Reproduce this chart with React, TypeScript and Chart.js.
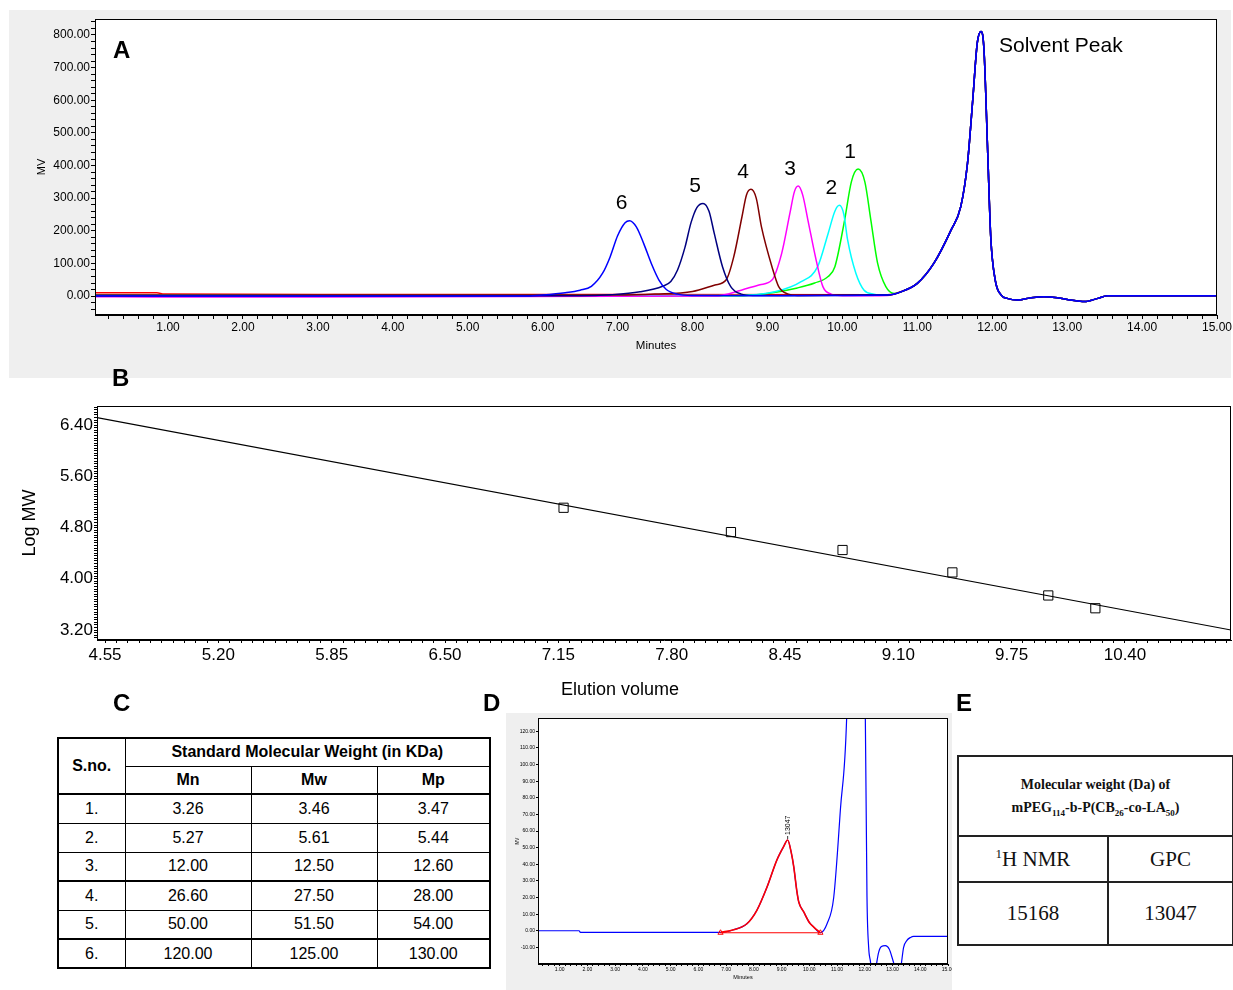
import React, { useEffect, useRef } from 'react';
import { Chart, registerables } from 'chart.js';

Chart.register(...registerables);

const SANS = '"Liberation Sans", Arial, Helvetica, sans-serif';
const SERIF = '"Liberation Serif", "Times New Roman", serif';
Chart.defaults.font.family = SANS;
Chart.defaults.color = '#000';

// ---------------- Panel A: GPC chromatograms of standards ----------------
const stdNames = ['6', '5', '4', '3', '2', '1'];
const stdColors = ['#0000ff', '#000080', '#800000', '#ff00ff', '#00ffff', '#00ff00'];
const stdPeakTime = [7.16, 8.14, 8.78, 9.41, 9.96, 10.21];
const stdPeakMv = [231, 284, 327, 337, 278, 389];

const std6T = [0.03, 3.0, 5.8, 6.0, 6.3, 6.5, 6.65, 6.8, 6.9, 7.0, 7.1, 7.16, 7.25, 7.35, 7.45, 7.55, 7.65, 7.8, 8.0, 9.0, 10.6];
const std6V = [1, 0, 0, 3, 10, 18, 30, 70, 120, 185, 225, 231, 212, 160, 100, 50, 20, 6, 2, 1, 3];
const std5T = [0.03, 3.0, 6.5, 6.9, 7.3, 7.6, 7.71, 7.8, 7.9, 7.98, 8.06, 8.14, 8.22, 8.29, 8.4, 8.51, 8.65, 8.8, 10.6];
const std5V = [0, 0, 1, 4, 13, 30, 45, 80, 150, 225, 272, 284, 260, 192, 90, 29, 6, 2, 3];
const std4T = [0.03, 3.0, 7.0, 7.5, 8.0, 8.3, 8.45, 8.55, 8.66, 8.72, 8.78, 8.85, 8.92, 9.06, 9.15, 9.28, 9.4, 10.6];
const std4V = [3, 3, 3, 6, 14, 34, 50, 120, 243, 310, 327, 300, 212, 90, 29, 6, 2, 3];
const std3T = [0.03, 0.8, 3.0, 8.3, 8.65, 8.9, 9.06, 9.19, 9.3, 9.36, 9.41, 9.47, 9.54, 9.65, 9.74, 9.85, 10.0, 10.6];
const std3V = [-2, -3, -3, 0, 18, 35, 49, 131, 254, 320, 337, 310, 233, 110, 29, 6, 1, 2];
const std2T = [0.03, 3.0, 8.6, 9.1, 9.45, 9.67, 9.81, 9.9, 9.96, 10.02, 10.07, 10.18, 10.29, 10.42, 10.6];
const std2V = [4, 2, 2, 13, 44, 90, 192, 260, 278, 250, 172, 70, 18, 6, 3];
const std1T = [0.03, 3.0, 8.6, 9.0, 9.4, 9.63, 9.81, 9.9, 10.03, 10.12, 10.21, 10.3, 10.38, 10.47, 10.58, 10.69];
const std1V = [3, 1, 1, 8, 25, 40, 60, 90, 233, 350, 389, 350, 233, 101, 29, 8];
const blankT = [0.03, 0.85, 0.95, 3.0, 10.6];
const blankV = [10, 10, 6, 5, 4];
const blankColor = '#ff0000';

// solvent peak region shared by every run
const solventT = [10.78, 11.0, 11.22, 11.45, 11.58, 11.67, 11.74, 11.8, 11.85, 11.89, 11.94, 11.98, 12.04, 12.12, 12.2, 12.34, 12.52, 12.69, 12.87, 13.05, 13.23, 13.41, 13.54, 15.0];
const solventV = [13, 39, 100, 202, 274, 407, 601, 775, 811, 755, 438, 182, 49, 3, -7, -12, -5, -2, -5, -12, -17, -7, 1, 1];
const solventPeakTime = 11.85;
const solventPeakMv = 811;

// ---------------- Panel B: calibration ----------------
const calibElution = [7.18, 8.14, 8.78, 9.41, 9.96, 10.23];
const calibLogMw = [5.11, 4.73, 4.45, 4.1, 3.74, 3.54];
const fitElution = [4.504, 11.008];
const fitLogMw = [6.52, 3.2];

// ---------------- Panel C: table ----------------
const tableSno = ['1.', '2.', '3.', '4.', '5.', '6.'];
const tableMn = ['3.26', '5.27', '12.00', '26.60', '50.00', '120.00'];
const tableMw = ['3.46', '5.61', '12.50', '27.50', '51.50', '125.00'];
const tableMp = ['3.47', '5.44', '12.60', '28.00', '54.00', '130.00'];

// ---------------- Panel D: sample chromatogram ----------------
const sampleBaseT = [0.22, 1.7, 1.75, 3.2, 6.3];
const sampleBaseV = [0, 0, -1, -1, -1];
const samplePeakT = [6.8, 7.27, 7.75, 8.11, 8.47, 8.83, 9.07, 9.22, 9.35, 9.44, 9.55, 9.62, 9.8, 10.0, 10.16, 10.4];
const samplePeakV = [-1, 0.6, 4.2, 12.3, 26, 42.5, 50.5, 54.6, 47, 38.4, 24, 17.3, 11.3, 5, 2.2, -1.2];
const sampleTailT = [10.64, 10.88, 11.12, 11.36, 11.6, 11.85, 11.97, 12.02, 12.08, 12.14, 12.2, 12.3, 12.4, 12.5, 12.6, 12.74, 12.88, 13.0, 13.1, 13.2, 13.3, 13.4, 13.52, 13.65, 13.76, 15.0];
const sampleTailV = [4.2, 20, 72.7, 135, 350, 800, 350, 128, 20, -10, -18, -30, -22, -13, -9.5, -9, -11, -17, -23, -30, -22, -10, -5.8, -4, -3.4, -3.4];
const peakBaseT = [6.8, 10.4];
const peakBaseV = [-1.2, -1.2];
const samplePeakLabel = '13047';
const samplePeakTime = 9.22;
const samplePeakMv = 54.6;

// ---------------- Panel E ----------------
const nmrMw = '15168';
const gpcMw = '13047';

function pts(t: number[], v: number[]) {
  return t.map((x, i) => ({ x, y: v[i] }));
}

function noPad(s: any) {
  s.paddingLeft = 0;
  s.paddingRight = 0;
  s.paddingTop = 0;
  s.paddingBottom = 0;
}

function frame(id: string) {
  return {
    id,
    beforeDraw(chart: any) {
      const { ctx, chartArea: a } = chart;
      ctx.save();
      ctx.fillStyle = '#ffffff';
      ctx.fillRect(a.left, a.top, a.right - a.left, a.bottom - a.top);
      ctx.restore();
    },
    afterDatasetsDraw(chart: any) {
      const { ctx, chartArea: a } = chart;
      ctx.save();
      ctx.strokeStyle = '#000';
      ctx.lineWidth = 1;
      ctx.strokeRect(Math.round(a.left) + 0.5, Math.round(a.top) + 0.5, Math.round(a.right - a.left) - 1, Math.round(a.bottom - a.top) - 1);
      ctx.restore();
    },
  };
}

function makeA(): any {
  const runsT = [std6T, std5T, std4T, std3T, std2T, std1T];
  const runsV = [std6V, std5V, std4V, std3V, std2V, std1V];
  const datasets: any[] = runsT.map((t, i) => ({
    data: pts([...t, ...solventT], [...runsV[i], ...solventV]),
    borderColor: stdColors[i],
    borderWidth: 1.5,
    pointRadius: 0,
    fill: false,
    cubicInterpolationMode: 'monotone',
  }));
  datasets.push({
    data: pts([...blankT, ...solventT], [...blankV, ...solventV]),
    borderColor: blankColor,
    borderWidth: 1.5,
    pointRadius: 0,
    fill: false,
    cubicInterpolationMode: 'monotone',
  });
  const labels = {
    id: 'labelsA',
    afterDatasetsDraw(chart: any) {
      const { ctx, scales } = chart;
      const x = scales.x;
      const y = scales.y;
      ctx.save();
      ctx.fillStyle = '#000';
      ctx.font = `21px ${SANS}`;
      ctx.textAlign = 'center';
      ctx.textBaseline = 'middle';
      stdPeakTime.forEach((t, i) => {
        ctx.fillText(stdNames[i], x.getPixelForValue(t) - 8, y.getPixelForValue(stdPeakMv[i]) - 17);
      });
      ctx.textAlign = 'left';
      ctx.fillText('Solvent Peak', x.getPixelForValue(solventPeakTime) + 18, y.getPixelForValue(solventPeakMv) + 15);
      ctx.restore();
    },
  };
  return {
    type: 'line',
    data: { datasets },
    options: {
      responsive: false,
      animation: false,
      events: [],
      layout: { autoPadding: false, padding: { left: 0, top: 9, right: 16, bottom: 0 } },
      plugins: { legend: { display: false }, tooltip: { enabled: false } },
      scales: {
        x: {
          type: 'linear',
          min: 0.025,
          max: 15,
          afterBuildTicks: (s: any) => {
            const a = [];
            for (let k = 1; k <= 75; k++) a.push({ value: k / 5 });
            s.ticks = a;
          },
          ticks: {
            autoSkip: false,
            maxRotation: 0,
            padding: 1,
            color: '#000',
            font: { size: 12 },
            callback: (v: number) => (Math.abs(v - Math.round(v)) < 1e-6 ? v.toFixed(2) : ''),
          },
          grid: { drawOnChartArea: false, drawTicks: true, tickLength: 4, color: '#000' },
          border: { display: true, color: '#000', width: 1 },
          title: { display: true, text: 'Minutes', color: '#000', font: { size: 11.5 }, padding: { top: 0, bottom: 25 } },
          afterFit: (s: any) => {
            s.height = 63;
            noPad(s);
          },
        },
        y: {
          min: -58,
          max: 849,
          afterBuildTicks: (s: any) => {
            const a = [];
            for (let k = -2; k <= 42; k++) a.push({ value: k * 20 });
            s.ticks = a;
          },
          ticks: {
            autoSkip: false,
            padding: 1,
            color: '#000',
            font: { size: 12 },
            callback: (v: number) => (v >= 0 && v % 100 === 0 ? v.toFixed(2) : ''),
          },
          grid: { drawOnChartArea: false, drawTicks: true, tickLength: 4, color: '#000' },
          border: { display: true, color: '#000', width: 1 },
          title: { display: true, text: 'MV', color: '#000', font: { size: 11 }, padding: { top: 26, bottom: 0 } },
          afterFit: (s: any) => {
            s.width = 86;
            noPad(s);
          },
        },
      },
    },
    plugins: [frame('frameA'), labels],
  };
}

function makeB(): any {
  return {
    type: 'line',
    data: {
      datasets: [
        {
          data: pts(calibElution, calibLogMw),
          showLine: false,
          pointStyle: 'rect',
          pointRadius: 6.5,
          pointBorderColor: '#000',
          pointBackgroundColor: 'rgba(255,255,255,0)',
          pointBorderWidth: 1,
        },
        {
          data: pts(fitElution, fitLogMw),
          borderColor: '#000',
          borderWidth: 1.2,
          pointRadius: 0,
          tension: 0,
        },
      ],
    },
    options: {
      responsive: false,
      animation: false,
      events: [],
      layout: { autoPadding: false, padding: { left: 0, top: 11, right: 2, bottom: 0 } },
      plugins: { legend: { display: false }, tooltip: { enabled: false } },
      scales: {
        x: {
          type: 'linear',
          min: 4.504,
          max: 11.008,
          afterBuildTicks: (s: any) => {
            const a = [];
            for (let k = 0; k <= 99; k++) a.push({ value: Math.round((4.55 + k * 0.065) * 1000) / 1000 });
            s.ticks = a;
          },
          ticks: {
            autoSkip: false,
            maxRotation: 0,
            padding: 2,
            color: '#000',
            font: { size: 17 },
            callback: (v: number, i: number) => (i % 10 === 0 ? v.toFixed(2) : ''),
          },
          grid: { drawOnChartArea: false, drawTicks: true, tickLength: 3, color: '#000' },
          border: { display: true, color: '#000', width: 1 },
          afterFit: (s: any) => {
            s.height = 60;
            noPad(s);
          },
        },
        y: {
          min: 3.044,
          max: 6.7,
          afterBuildTicks: (s: any) => {
            const a = [];
            for (let k = 77; k <= 167; k++) a.push({ value: Math.round(k * 4) / 100 });
            s.ticks = a;
          },
          ticks: {
            autoSkip: false,
            padding: 1,
            color: '#000',
            font: { size: 17 },
            callback: (v: number) => {
              const k = Math.round(v * 25);
              return k % 20 === 0 ? v.toFixed(2) : '';
            },
          },
          grid: { drawOnChartArea: false, drawTicks: true, tickLength: 3, color: '#000' },
          border: { display: true, color: '#000', width: 1 },
          title: { display: true, text: 'Log MW', color: '#000', font: { size: 18 }, padding: { top: 9, bottom: 0 } },
          afterFit: (s: any) => {
            s.width = 87;
            noPad(s);
          },
        },
      },
    },
    plugins: [frame('frameB')],
  };
}

function makeD(): any {
  const label = {
    id: 'labelD',
    afterDatasetsDraw(chart: any) {
      const { ctx, scales } = chart;
      const px = scales.x.getPixelForValue(samplePeakTime);
      const py = scales.y.getPixelForValue(samplePeakMv);
      ctx.save();
      ctx.strokeStyle = '#000';
      ctx.lineWidth = 0.8;
      ctx.beginPath();
      ctx.moveTo(px, py - 1);
      ctx.lineTo(px, py - 4);
      ctx.stroke();
      ctx.translate(px, py - 5);
      ctx.rotate(-Math.PI / 2);
      ctx.fillStyle = '#000';
      ctx.font = `7px ${SANS}`;
      ctx.textAlign = 'left';
      ctx.textBaseline = 'middle';
      ctx.fillText(samplePeakLabel, 0, 0);
      ctx.restore();
    },
  };
  return {
    type: 'line',
    data: {
      datasets: [
        {
          data: pts(samplePeakT, samplePeakV),
          borderColor: '#ff0000',
          borderWidth: 1.6,
          pointRadius: 0,
          cubicInterpolationMode: 'monotone',
        },
        {
          data: pts(peakBaseT, peakBaseV),
          borderColor: '#ff0000',
          borderWidth: 1.2,
          pointStyle: 'triangle',
          pointRadius: 3,
          pointBorderColor: '#ff0000',
          pointBackgroundColor: 'rgba(255,255,255,0)',
          pointBorderWidth: 1,
        },
        {
          data: pts([...sampleBaseT, ...samplePeakT, ...sampleTailT], [...sampleBaseV, ...samplePeakV, ...sampleTailV]),
          borderColor: '#0000ff',
          borderWidth: 1.2,
          pointRadius: 0,
          cubicInterpolationMode: 'monotone',
        },
      ],
    },
    options: {
      responsive: false,
      animation: false,
      events: [],
      layout: { autoPadding: false, padding: { left: 0, top: 5, right: 4, bottom: 0 } },
      plugins: { legend: { display: false }, tooltip: { enabled: false } },
      scales: {
        x: {
          type: 'linear',
          min: 0.22,
          max: 15,
          afterBuildTicks: (s: any) => {
            const a = [];
            for (let k = 2; k <= 75; k++) a.push({ value: k / 5 });
            s.ticks = a;
          },
          ticks: {
            autoSkip: false,
            maxRotation: 0,
            padding: 1,
            color: '#000',
            font: { size: 5 },
            callback: (v: number) => (Math.abs(v - Math.round(v)) < 1e-6 ? v.toFixed(2) : ''),
          },
          grid: { drawOnChartArea: false, drawTicks: true, tickLength: 2, color: '#000' },
          border: { display: true, color: '#000', width: 1 },
          title: { display: true, text: 'Minutes', color: '#000', font: { size: 5.5 }, padding: { top: 0, bottom: 9 } },
          afterFit: (s: any) => {
            s.height = 26;
            noPad(s);
          },
        },
        y: {
          min: -20,
          max: 128,
          afterBuildTicks: (s: any) => {
            const a = [];
            for (let k = -1; k <= 12; k++) a.push({ value: k * 10 });
            s.ticks = a;
          },
          ticks: {
            autoSkip: false,
            padding: 1,
            color: '#000',
            font: { size: 5 },
            callback: (v: number) => v.toFixed(2),
          },
          grid: { drawOnChartArea: false, drawTicks: true, tickLength: 2, color: '#000' },
          border: { display: true, color: '#000', width: 1 },
          title: { display: true, text: 'MV', color: '#000', font: { size: 4.5 }, padding: { top: 9, bottom: 0 } },
          afterFit: (s: any) => {
            s.width = 32;
            noPad(s);
          },
        },
      },
    },
    plugins: [frame('frameD'), label],
  };
}

function ChartCanvas(props: { left: number; top: number; width: number; height: number; make: () => any }) {
  const ref = useRef<HTMLCanvasElement>(null);
  useEffect(() => {
    const chart = new Chart(ref.current as HTMLCanvasElement, props.make());
    return () => chart.destroy();
  }, []);
  return (
    <canvas
      ref={ref}
      width={props.width}
      height={props.height}
      style={{ position: 'absolute', left: props.left, top: props.top, width: props.width, height: props.height, display: 'block' }}
    />
  );
}

function Letter(props: { ch: string; left: number; top: number }) {
  return (
    <div style={{ position: 'absolute', left: props.left, top: props.top, font: `bold 24px ${SANS}`, lineHeight: '24px', color: '#000' }}>
      {props.ch}
    </div>
  );
}

const cellC: React.CSSProperties = {
  border: '1px solid #000',
  padding: 0,
  textAlign: 'center',
  verticalAlign: 'middle',
  lineHeight: '18px',
};

function TableC() {
  const thick = '2px solid #000';
  return (
    <table
      style={{
        position: 'absolute',
        left: 57,
        top: 737,
        width: 432,
        borderCollapse: 'collapse',
        tableLayout: 'fixed',
        font: `16px ${SANS}`,
        color: '#000',
        border: thick,
        background: '#fff',
      }}
    >
      <colgroup>
        <col style={{ width: 67 }} />
        <col style={{ width: 126 }} />
        <col style={{ width: 126 }} />
        <col style={{ width: 113 }} />
      </colgroup>
      <tbody>
        <tr style={{ height: 28 }}>
          <td rowSpan={2} style={{ ...cellC, fontWeight: 'bold', borderBottom: thick }}>S.no.</td>
          <td colSpan={3} style={{ ...cellC, fontWeight: 'bold' }}>Standard Molecular Weight (in KDa)</td>
        </tr>
        <tr style={{ height: 28 }}>
          <td style={{ ...cellC, fontWeight: 'bold', borderBottom: thick }}>Mn</td>
          <td style={{ ...cellC, fontWeight: 'bold', borderBottom: thick }}>Mw</td>
          <td style={{ ...cellC, fontWeight: 'bold', borderBottom: thick }}>Mp</td>
        </tr>
        {tableSno.map((s, i) => {
          const top = i === 3 || i === 5 ? thick : '1px solid #000';
          return (
            <tr key={s} style={{ height: 29 }}>
              <td style={{ ...cellC, borderTop: top }}>{s}</td>
              <td style={{ ...cellC, borderTop: top }}>{tableMn[i]}</td>
              <td style={{ ...cellC, borderTop: top }}>{tableMw[i]}</td>
              <td style={{ ...cellC, borderTop: top }}>{tableMp[i]}</td>
            </tr>
          );
        })}
      </tbody>
    </table>
  );
}

function TableE() {
  const b = '2px solid #222';
  const cell: React.CSSProperties = { border: b, padding: 0, textAlign: 'center', verticalAlign: 'middle' };
  return (
    <table
      style={{
        position: 'absolute',
        left: 957,
        top: 755,
        width: 275,
        borderCollapse: 'collapse',
        tableLayout: 'fixed',
        fontFamily: SERIF,
        color: '#111',
        background: '#fff',
        border: b,
      }}
    >
      <colgroup>
        <col style={{ width: 150 }} />
        <col style={{ width: 125 }} />
      </colgroup>
      <tbody>
        <tr style={{ height: 80 }}>
          <td colSpan={2} style={{ ...cell, fontWeight: 'bold', fontSize: 14, lineHeight: '23px' }}>
            Molecular weight (Da) of
            <br />
            mPEG<sub style={{ fontSize: 9, lineHeight: 0 }}>114</sub>-b-P(CB<sub style={{ fontSize: 9, lineHeight: 0 }}>26</sub>-co-LA
            <sub style={{ fontSize: 9, lineHeight: 0 }}>50</sub>)
          </td>
        </tr>
        <tr style={{ height: 46 }}>
          <td style={{ ...cell, fontSize: 21 }}>
            <sup style={{ fontSize: 13, lineHeight: 0 }}>1</sup>H NMR
          </td>
          <td style={{ ...cell, fontSize: 21 }}>GPC</td>
        </tr>
        <tr style={{ height: 63 }}>
          <td style={{ ...cell, fontSize: 21 }}>{nmrMw}</td>
          <td style={{ ...cell, fontSize: 21 }}>{gpcMw}</td>
        </tr>
      </tbody>
    </table>
  );
}

export default function App() {
  return (
    <div style={{ position: 'absolute', left: 0, top: 0, width: 1233, height: 990, background: '#fff', overflow: 'hidden', fontFamily: SANS }}>
      <div style={{ position: 'absolute', left: 9, top: 10, width: 1222, height: 368, background: '#efefef' }} />
      <ChartCanvas left={9} top={10} width={1224} height={368} make={makeA} />
      <ChartCanvas left={10} top={395} width={1223} height={305} make={makeB} />
      <div style={{ position: 'absolute', left: 506, top: 713, width: 446, height: 277, background: '#efefef' }} />
      <ChartCanvas left={506} top={713} width={446} height={277} make={makeD} />
      <div style={{ position: 'absolute', left: 561, top: 680, font: `18px ${SANS}`, lineHeight: '18px', color: '#000', whiteSpace: 'nowrap' }}>
        Elution volume
      </div>
      <TableC />
      <TableE />
      <Letter ch="A" left={113} top={38} />
      <Letter ch="B" left={112} top={366} />
      <Letter ch="C" left={113} top={691} />
      <Letter ch="D" left={483} top={691} />
      <Letter ch="E" left={956} top={691} />
    </div>
  );
}
